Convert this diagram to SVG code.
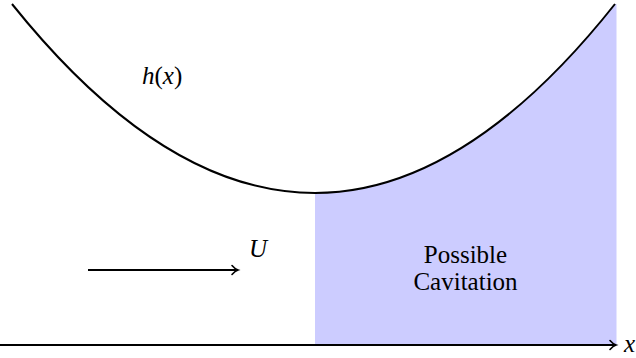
<svg xmlns="http://www.w3.org/2000/svg" width="636" height="358" viewBox="0 0 636 358">
<style>
.ln{fill:none;stroke:#000;stroke-width:2}
.t{font-family:"Liberation Serif","DejaVu Serif",serif;font-size:25px;fill:#000}
.i{font-style:italic}
</style>
<defs>
<marker id="to" markerWidth="12" markerHeight="12" refX="8" refY="6" orient="auto" markerUnits="userSpaceOnUse">
<path d="M2,1.5 Q5,5 8,6 Q5,7 2,10.5" fill="none" stroke="#000" stroke-width="1.6" stroke-linecap="round"/>
</marker>
</defs>
<g id="cavitation">
<path d="M315,193 Q465,193 615.5,4 L616.5,4 L616.5,346 L315,346 Z" fill="#ccccff"/>
<text class="t" x="465.5" y="263" text-anchor="middle">Possible</text>
<text class="t" x="465.5" y="290" text-anchor="middle">Cavitation</text>
</g>
<g id="curve">
<path class="ln" d="M12,4 Q163.5,193 315,193 Q465,193 615,4"/>
<text class="t" x="142" y="84"><tspan class="i">h</tspan>(<tspan class="i">x</tspan>)</text>
</g>
<g id="connectors">
<path class="ln" d="M0,345 L616,345" marker-end="url(#to)"/>
<path class="ln" d="M88,270 L238,270" marker-end="url(#to)"/>
</g>
<g id="labels">
<text class="t i" x="249" y="257">U</text>
<text class="t i" x="624" y="352">x</text>
</g>
</svg>
